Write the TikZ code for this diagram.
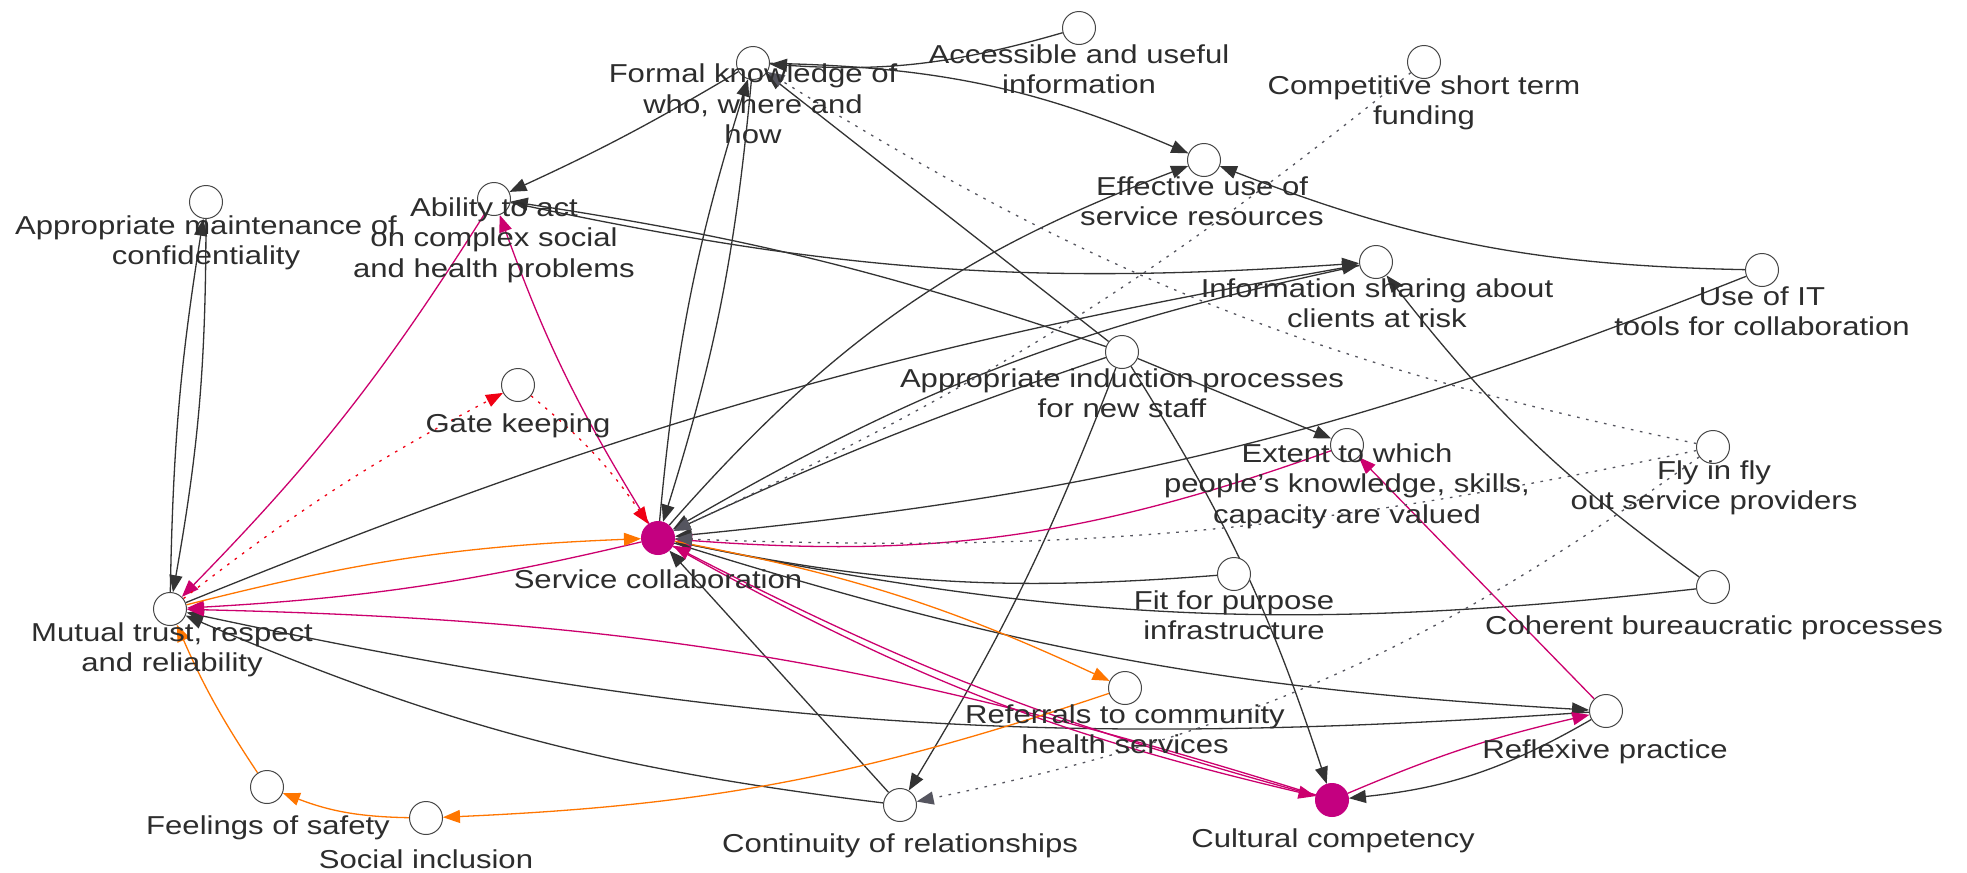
\documentclass[tikz,border=0pt]{standalone}
\usepackage{fontspec}
\setmainfont{Liberation Sans}[FakeStretch=1.2]
\definecolor{cldLine}{RGB}{51, 51, 51}
\definecolor{cldRing}{RGB}{70, 70, 70}
\definecolor{cldText}{RGB}{45, 45, 45}
\definecolor{cldPink}{RGB}{204, 0, 110}
\definecolor{cldMagenta}{RGB}{196, 0, 128}
\definecolor{cldOrange}{RGB}{255, 118, 0}
\definecolor{cldRed}{RGB}{240, 0, 20}
\definecolor{cldDots}{RGB}{85, 85, 95}
\usetikzlibrary{arrows.meta, backgrounds}

\begin{document}
\begin{tikzpicture}[
    x=0.5pt, y=-0.5pt,
    factor/.style={circle, draw=cldRing, fill=white, line width=0.5pt,
                   minimum size=16.5pt, inner sep=0pt},
    core/.style={factor, draw=cldMagenta, fill=cldMagenta},
    lbl/.style={align=center, inner sep=0pt, text=cldText,
                font=\fontsize{12.95}{15.25}\selectfont},
    arrow/.style={-{Triangle[length=8.5pt, width=6.5pt]}, cldLine, line width=0.65pt},
    pinkarrow/.style={arrow, cldPink},
    orangearrow/.style={arrow, cldOrange},
    dotarrow/.style={arrow, cldDots, dash pattern=on 1.3pt off 3.3pt},
    reddotarrow/.style={dotarrow, cldRed},
  ]
    \useasboundingbox (0,0) rectangle (1967,873);

    % Factors
    \node[factor] (MAINT)    at (206,202)  {};
    \node[factor] (ABILITY)  at (494,199)  {};
    \node[factor] (GATE)     at (518,385)  {};
    \node[factor] (FORMAL)   at (753,63)   {};
    \node[factor] (ACCESS)   at (1079,28)  {};
    \node[factor] (EFFECT)   at (1204,160) {};
    \node[factor] (INDUCT)   at (1122,352) {};
    \node[factor] (COMPET)   at (1424,62)  {};
    \node[factor] (INFO)     at (1376,262) {};
    \node[factor] (USEIT)    at (1762,270) {};
    \node[factor] (MUTUAL)   at (170,609)  {};
    \node[core]   (SERVICE)  at (658,538)  {};
    \node[factor] (FEEL)     at (267,787)  {};
    \node[factor] (SOCIAL)   at (426,818)  {};
    \node[factor] (REFER)    at (1125,688) {};
    \node[factor] (CONTIN)   at (900,805)  {};
    \node[factor] (FIT)      at (1234,574) {};
    \node[factor] (EXTENT)   at (1347,445) {};
    \node[factor] (FLY)      at (1713,447) {};
    \node[factor] (COHERENT) at (1713,587) {};
    \node[factor] (REFLEX)   at (1606,711) {};
    \node[core]   (CULTURAL) at (1332,800) {};

    % Labels
    \node[lbl] (MAINTtxt)    at (206,243)  {Appropriate maintenance of\\confidentiality};
    \node[lbl] (ABILITYtxt)  at (494,240)  {Ability to act\\on complex social\\and health problems};
    \node[lbl] (GATEtxt)     at (518,426)  {Gate keeping};
    \node[lbl] (FORMALtxt)   at (753,104)  {Formal knowledge of\\who, where and\\how};
    \node[lbl] (ACCESStxt)   at (1079,69)  {Accessible and useful\\information};
    \node[lbl] (EFFECTtxt)   at (1202,201) {Effective use of\\service resources};
    \node[lbl] (INDUCTtxt)   at (1122,393) {Appropriate induction processes\\for new staff};
    \node[lbl] (COMPETtxt)   at (1424,103) {Competitive short term\\funding};
    \node[lbl] (INFOtxt)     at (1377,303) {Information sharing about\\clients at risk};
    \node[lbl] (USEITtxt)    at (1762,311) {Use of IT\\tools for collaboration};
    \node[lbl] (MUTUALtxt)   at (172,650)  {Mutual trust, respect\\and reliability};
    \node[lbl] (SERVICEtxt)  at (658,579)  {Service collaboration};
    \node[lbl] (FEELtxt)     at (268,828)  {Feelings of safety};
    \node[lbl] (SOCIALtxt)   at (426,859)  {Social inclusion};
    \node[lbl] (REFERtxt)    at (1125,729) {Referrals to community\\health services};
    \node[lbl] (CONTINtxt)   at (900,846)  {Continuity of relationships};
    \node[lbl] (FITtxt)      at (1234,615) {Fit for purpose\\infrastructure};
    \node[lbl] (EXTENTtxt)   at (1347,486) {Extent to which\\people's knowledge, skills,\\capacity are valued};
    \node[lbl] (FLYtxt)      at (1714,488) {Fly in fly\\out service providers};
    \node[lbl] (COHERENTtxt) at (1714,628) {Coherent bureaucratic processes};
    \node[lbl] (REFLEXtxt)   at (1605,752) {Reflexive practice};
    \node[lbl] (CULTURALtxt) at (1333,841) {Cultural competency};

    \begin{scope}[on background layer]
    \fill[white] (0,0) rectangle (1967,873);

    % Plain links
    \draw[arrow] (ACCESS) to[bend left=10] (FORMAL);
    \draw[arrow] (FORMAL) to[bend left=11] (EFFECT);
    \draw[arrow] (FORMAL) to[bend left=3] (ABILITY);
    \draw[arrow] (SERVICE) to[bend left=6] (FORMAL);
    \draw[arrow] (FORMAL) to[bend left=6] (SERVICE);
    \draw[arrow] (INDUCT) -- (FORMAL);
    \draw[arrow] (INDUCT) to[bend right=5] (ABILITY);
    \draw[arrow] (ABILITY) to[bend right=8] (INFO);
    \draw[arrow] (MUTUAL) to[bend left=6] (INFO);
    \draw[arrow] (INFO) to[bend right=9] (SERVICE);
    \draw[arrow] (SERVICE) to[bend left=14] (EFFECT);
    \draw[arrow] (USEIT) to[bend left=10] (EFFECT);
    \draw[arrow] (USEIT) to[bend left=8] (SERVICE);
    \draw[arrow] (INDUCT) -- (EXTENT);
    \draw[arrow] (INDUCT) to[bend right=3] (SERVICE);
    \draw[arrow] (INDUCT) to[bend left=5] (CONTIN);
    \draw[arrow] (INDUCT) to[bend left=7] (CULTURAL);
    \draw[arrow] (SERVICE) to[bend right=7] (REFLEX);
    \draw[arrow] (COHERENT) to[bend left=9] (SERVICE);
    \draw[arrow] (FIT) to[bend left=8] (SERVICE);
    \draw[arrow] (CONTIN) -- (SERVICE);
    \draw[arrow] (CONTIN) to[bend left=8] (MUTUAL);
    \draw[arrow] (REFLEX) to[bend left=8] (MUTUAL);
    \draw[arrow] (REFLEX) to[bend left=12] (CULTURAL);
    \draw[arrow] (COHERENT) to[bend left=8] (INFO);
    \draw[arrow] (MAINT) to[bend left=5] (MUTUAL);
    \draw[arrow] (MUTUAL) to[bend left=4] (MAINT);

    % Pink links
    \draw[pinkarrow] (SERVICE) to[bend left=6] (ABILITY);
    \draw[pinkarrow] (ABILITY) to[bend left=6] (MUTUAL);
    \draw[pinkarrow] (SERVICE) to[bend left=5] (MUTUAL);
    \draw[pinkarrow] (CULTURAL) to[bend right=8] (MUTUAL);
    \draw[pinkarrow] (SERVICE) to[bend right=8] (CULTURAL);
    \draw[pinkarrow] (CULTURAL) to[bend left=6] (SERVICE);
    \draw[pinkarrow] (CULTURAL) to[bend left=5] (REFLEX);
    \draw[pinkarrow] (REFLEX) -- (EXTENT);
    \draw[pinkarrow] (EXTENT) to[bend left=12] (SERVICE);

    % Orange links
    \draw[orangearrow] (MUTUAL) to[bend left=6] (SERVICE);
    \draw[orangearrow] (SERVICE) to[bend left=7] (REFER);
    \draw[orangearrow] (REFER) to[bend left=8] (SOCIAL);
    \draw[orangearrow] (SOCIAL) to[bend left=10] (FEEL);
    \draw[orangearrow] (FEEL) to[bend left=5] (MUTUAL);

    % Dotted links
    \draw[reddotarrow] (MUTUAL) to[bend left=5] (GATE);
    \draw[reddotarrow] (GATE) to[bend left=8] (SERVICE);
    \draw[dotarrow] (FLY) to[bend left=10] (FORMAL);
    \draw[dotarrow] (COMPET) to[bend left=7] (SERVICE);
    \draw[dotarrow] (FLY) to[bend left=7] (SERVICE);
    \draw[dotarrow] (FLY) to[bend left=12] (CONTIN);
    \end{scope}
  \end{tikzpicture}
\end{document}
